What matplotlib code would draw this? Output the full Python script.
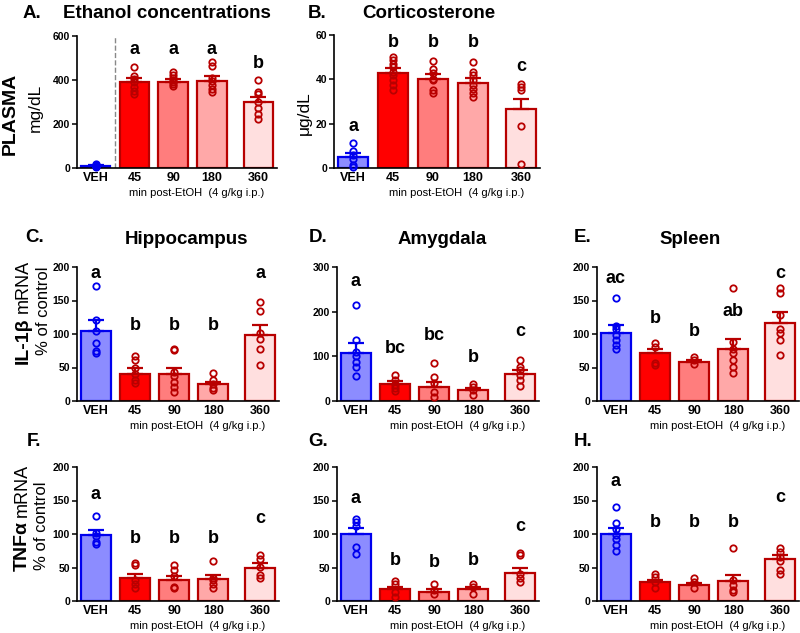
import matplotlib
matplotlib.use("Agg")
import matplotlib.pyplot as plt

plt.rcParams['font.family'] = ['Liberation Sans', 'DejaVu Sans']

groups = ['VEH', '45', '90', '180', '360']
xpos = [0, 1, 2, 3, 4.2]

fills = ['#8c8cff', '#ff0000', '#ff7d7d', '#ffa8a8', '#ffdfdf']
edges = ['#0000ee', '#b80000', '#b80000', '#b80000', '#b80000']

# A. ethanol (mg/dL)
etoh_mean = [10, 393, 392, 397, 300]
etoh_sem = [3, 15, 12, 20, 22]
etoh_pts = [[6, 9, 11, 14, 17, 10], [458, 420, 405, 390, 370, 350, 335],
            [438, 425, 410, 400, 390, 380, 375], [481, 464, 410, 395, 378, 358, 345],
            [398, 345, 335, 300, 272, 245, 222]]
etoh_let = ['', 'a', 'a', 'a', 'b']
etoh_let_y = [0, 540, 540, 540, 476]

# B. corticosterone (ug/dL)
cort_mean = [4.8, 43, 40.3, 38.5, 26.8]
cort_sem = [1.9, 2, 2.1, 2.3, 4.4]
cort_pts = [[11.5, 7.5, 6, 4, 1.5, 0.5], [50, 48.7, 47, 45.7, 43.5, 42, 39.7, 37.5, 35.2],
            [48.3, 44.7, 43, 40, 39.5, 35.2, 34], [47.7, 43.5, 42, 39.7, 37.5, 35.5, 33.7, 32],
            [37.8, 36.5, 35.2, 19, 1.6]]
cort_let = ['a', 'b', 'b', 'b', 'c']
cort_let_y = [18.7, 56.5, 56.5, 56.5, 45.7]

# C-E. IL-1b mRNA (% of control)
il_hip_mean = [104, 41, 39.7, 25.3, 98]
il_hip_sem = [16.6, 7.6, 9.9, 3.5, 16]
il_hip_pts = [[171, 121, 104, 87, 74, 71], [67, 61, 49, 41, 32, 27],
              [78, 76, 44, 37, 29, 21, 14], [42, 31, 26, 20, 16],
              [148, 135, 102, 92, 78, 54]]
il_hip_let = ['a', 'b', 'b', 'b', 'a']
il_hip_let_y = [191, 113, 113, 113, 191]

il_amy_mean = [108, 37, 32, 24.6, 60]
il_amy_sem = [21, 7, 11, 5.4, 9]
il_amy_pts = [[214, 136, 110, 100, 88, 77, 57], [58, 47, 36, 28, 22],
              [84, 53, 40, 21, 10], [37, 32, 25, 14], [92, 77, 69, 58, 47, 34]]
il_amy_let = ['a', 'bc', 'bc', 'b', 'c']
il_amy_let_y = [267, 118, 147, 97, 155]

il_spl_mean = [101.7, 71, 58.6, 77, 117]
il_spl_sem = [11, 6, 2.4, 15.8, 15.5]
il_spl_pts = [[153, 112, 107, 98, 91, 83, 77], [86, 81, 56, 54], [65, 61, 55],
              [169, 88, 78, 71, 61, 51, 42], [168, 161, 128, 108, 102, 91, 68]]
il_spl_let = ['ac', 'b', 'b', 'ab', 'c']
il_spl_let_y = [183, 123, 103, 134, 190]

# F-H. TNFa mRNA (% of control)
tnf_hip_mean = [99, 34, 31, 33, 50]
tnf_hip_sem = [7.7, 5.7, 6, 5.7, 7]
tnf_hip_pts = [[127, 101, 97, 88, 85], [57, 53, 32, 26, 19], [54, 46, 37, 21, 19],
               [59, 34, 31, 26, 20], [68, 63, 51, 39, 34]]
tnf_hip_let = ['a', 'b', 'b', 'b', 'c']
tnf_hip_let_y = [159, 93, 93, 93, 123]

tnf_amy_mean = [99.8, 17.4, 14, 18.4, 41.7]
tnf_amy_sem = [9.9, 3.6, 3.4, 2.6, 7.9]
tnf_amy_pts = [[122, 118, 112, 81, 70], [30, 25, 14, 6.5], [25, 17, 11],
               [25, 21, 10], [71, 68.5, 41, 34, 28]]
tnf_amy_let = ['a', 'b', 'b', 'b', 'c']
tnf_amy_let_y = [153, 60, 57, 60, 111]

tnf_spl_mean = [99.8, 28.8, 23.8, 29.3, 62.5]
tnf_spl_sem = [9.9, 3.2, 2.5, 9.4, 6]
tnf_spl_pts = [[141, 116, 108, 98, 93, 83, 74], [41, 36, 29, 20], [35, 29, 19],
               [79, 31, 24, 17, 13], [79, 73, 66, 59, 47, 41]]
tnf_spl_let = ['a', 'b', 'b', 'b', 'c']
tnf_spl_let_y = [178, 117, 117, 117, 154]

W, H = 800, 633
fig = plt.figure(figsize=(8, 6.33), dpi=100)


def box(l, t, r, b):
    return fig.add_axes([l / W, 1 - b / H, (r - l) / W, (b - t) / H])


def ftext(x, y, s, **kw):
    fig.text(x / W, 1 - y / H, s, **kw)


def panel(ax, mean, sem, pts, let, let_y, ymax, ystep):
    for i in range(5):
        x = xpos[i]
        ax.bar(x, mean[i], width=0.76, color=fills[i], edgecolor=edges[i],
               linewidth=1.6, zorder=2)
        ax.errorbar(x, mean[i], yerr=[[0], [sem[i]]], color=edges[i], lw=1.6,
                    capsize=5.5, capthick=1.6, zorder=3)
        ax.plot([x] * len(pts[i]), pts[i], 'o', mfc='none', mec=edges[i],
                ms=4.6, mew=1.3, zorder=4, clip_on=False)
        if let[i]:
            ax.text(x, let_y[i], let[i], ha='center', va='center',
                    fontsize=13, fontweight='bold')
    ax.set_xlim(-0.48, 4.68)
    ax.set_ylim(0, ymax)
    ax.set_yticks(range(0, ymax + 1, ystep))
    ax.set_xticks(xpos)
    ax.set_xticklabels(groups, fontsize=9, fontweight='bold')
    for lab in ax.get_yticklabels():
        lab.set_fontweight('bold')
        lab.set_fontsize(7.5)
    ax.tick_params(axis='x', length=0, pad=3)
    ax.tick_params(axis='y', length=3.5, width=1.1, pad=1.5)
    ax.spines['top'].set_visible(False)
    ax.spines['right'].set_visible(False)
    ax.spines['left'].set_linewidth(1.2)
    ax.spines['bottom'].set_linewidth(1.2)
    ax.annotate('min post-EtOH  (4 g/kg i.p.)', xy=(2.6, 0),
                xycoords=('data', 'axes fraction'), xytext=(0, -18),
                textcoords='offset points', ha='center', va='center', fontsize=8)


axA = box(77, 36, 277, 168)
panel(axA, etoh_mean, etoh_sem, etoh_pts, etoh_let, etoh_let_y, 600, 200)
axA.plot([0.5, 0.5], [0, 600], '--', color='#888888', lw=1, zorder=1)

axB = box(334, 35, 540, 168)
panel(axB, cort_mean, cort_sem, cort_pts, cort_let, cort_let_y, 60, 20)

axC = box(77, 267, 279, 401)
panel(axC, il_hip_mean, il_hip_sem, il_hip_pts, il_hip_let, il_hip_let_y, 200, 50)
axD = box(337, 267, 539, 401)
panel(axD, il_amy_mean, il_amy_sem, il_amy_pts, il_amy_let, il_amy_let_y, 300, 100)
axE = box(597, 267, 799, 401)
panel(axE, il_spl_mean, il_spl_sem, il_spl_pts, il_spl_let, il_spl_let_y, 200, 50)

axF = box(77, 467, 279, 601)
panel(axF, tnf_hip_mean, tnf_hip_sem, tnf_hip_pts, tnf_hip_let, tnf_hip_let_y, 200, 50)
axG = box(337, 467, 539, 601)
panel(axG, tnf_amy_mean, tnf_amy_sem, tnf_amy_pts, tnf_amy_let, tnf_amy_let_y, 200, 50)
axH = box(597, 467, 799, 601)
panel(axH, tnf_spl_mean, tnf_spl_sem, tnf_spl_pts, tnf_spl_let, tnf_spl_let_y, 200, 50)

# panel letters and titles
big = dict(fontsize=13.5, fontweight='bold', ha='center', va='center')
ftext(32, 13, 'A.', **big)
ftext(167, 13, 'Ethanol concentrations', **big)
ftext(317, 13, 'B.', **big)
ftext(429, 13, 'Corticosterone', **big)
ftext(35, 238, 'C.', **big)
ftext(187, 240, 'Hippocampus', **big)
ftext(318, 238, 'D.', **big)
ftext(442, 240, 'Amygdala', **big)
ftext(583, 238, 'E.', **big)
ftext(690, 240, 'Spleen', **big)
ftext(34, 441, 'F.', **big)
ftext(318, 441, 'G.', **big)
ftext(583, 441, 'H.', **big)

# y axis labels
ftext(10, 114, 'PLASMA', fontsize=14, fontweight='bold', rotation=90,
      ha='center', va='center')
ftext(35, 108, 'mg/dL', fontsize=12.5, rotation=90, ha='center', va='center')
ftext(304, 113, 'μg/dL', fontsize=12.5, rotation=90, ha='center', va='center')

ftext(23, 317, 'IL-1β', fontsize=14, fontweight='bold', rotation=90,
      rotation_mode='anchor', ha='right', va='center')
ftext(23, 313, 'mRNA', fontsize=13, rotation=90,
      rotation_mode='anchor', ha='left', va='center')
ftext(44, 311, '% of control', fontsize=12, rotation=90, ha='center', va='center')

ftext(22, 521, 'TNFα', fontsize=14, fontweight='bold', rotation=90,
      rotation_mode='anchor', ha='right', va='center')
ftext(22, 517, 'mRNA', fontsize=13, rotation=90,
      rotation_mode='anchor', ha='left', va='center')
ftext(42, 526, '% of control', fontsize=12, rotation=90, ha='center', va='center')

fig.savefig('out.png', dpi=100)
